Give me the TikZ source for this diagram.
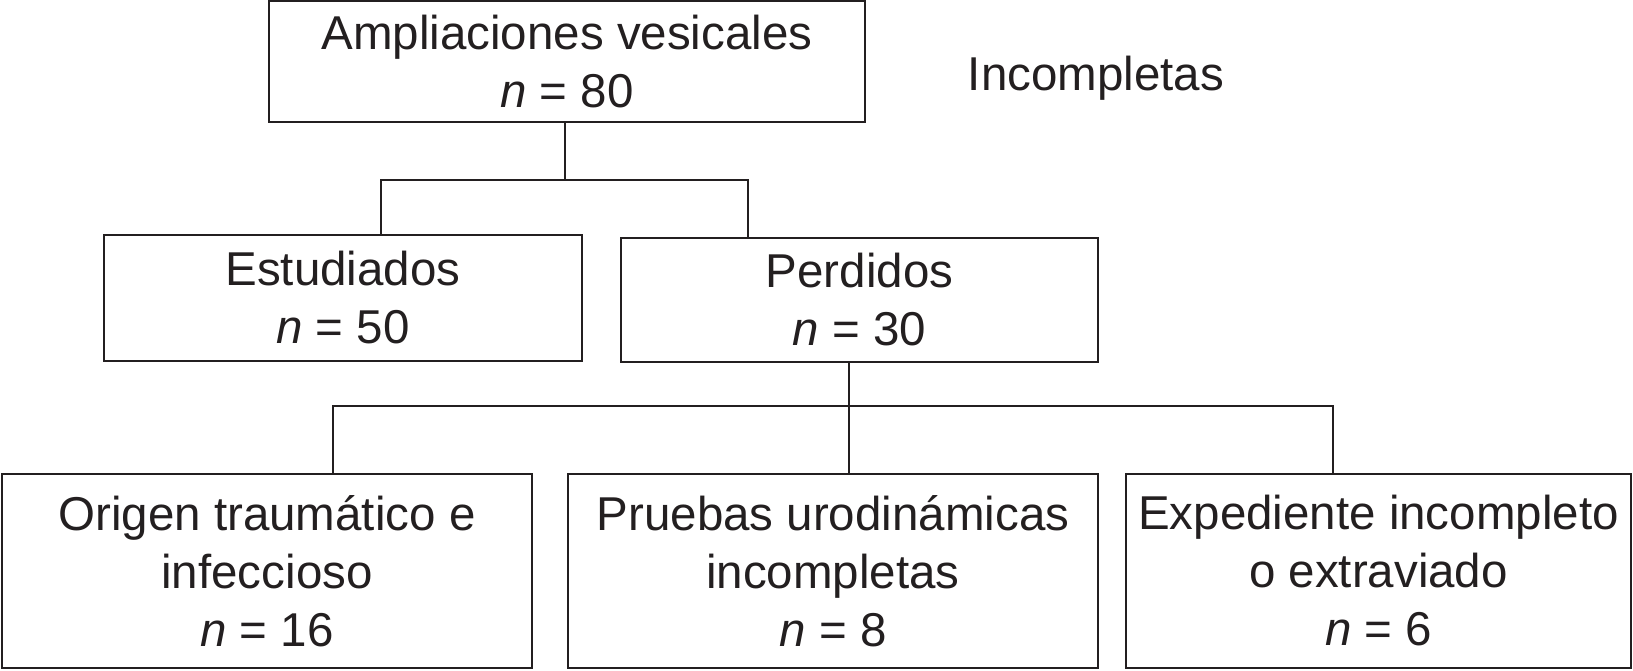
\documentclass[tikz,border=0pt]{standalone}
\usepackage{fontspec}
\setmainfont{Liberation Sans}
\definecolor{ink}{HTML}{231F20}
\begin{document}
\begin{tikzpicture}[x=1pt,y=-1pt,
  box/.style={draw=ink,line width=2.2pt,inner sep=0pt,align=center,text=ink,
    font=\fontsize{47.5}{58}\selectfont},
  conn/.style={draw=ink,line width=2.2pt}]
\useasboundingbox (0,0) rectangle (1633,670);
\node[box,minimum width=596pt,minimum height=121pt] (top) at (567,61.5)
  {Ampliaciones vesicales\\\textit{n} = 80};
\node[text=ink,anchor=base,font=\fontsize{47.5}{58}\selectfont] (inc) at (1096,90) {Incompletas};
\node[box,minimum width=478pt,minimum height=126pt] (est) at (343,298)
  {Estudiados\\\textit{n} = 50};
\node[box,minimum width=477pt,minimum height=124pt] (per) at (859.5,300)
  {Perdidos\\\textit{n} = 30};
\node[box,minimum width=530pt,minimum height=194pt] (b1) at (267,571)
  {Origen traumático e\\infeccioso\\\textit{n} = 16};
\node[box,minimum width=530pt,minimum height=194pt] (b2) at (833,571)
  {Pruebas urodinámicas\\incompletas\\\textit{n} = 8};
\node[box,minimum width=505pt,minimum height=194pt] (b3) at (1378.5,571)
  {Expediente incompleto\\o extraviado\\\textit{n} = 6};
\coordinate (j1) at (565,180);
\coordinate (j2) at (849,406);
\draw[conn] (top.south -| j1) -- (j1);
\draw[conn] ([xshift=278pt]est.north west) |- (j1) -| ([xshift=128pt]per.north west);
\draw[conn] (per.south -| j2) -- (j2);
\draw[conn] ([xshift=332pt]b1.north west) |- (j2) -| ([xshift=208pt]b3.north west);
\draw[conn] (j2) -- (b2.north -| j2);
\end{tikzpicture}
\end{document}
